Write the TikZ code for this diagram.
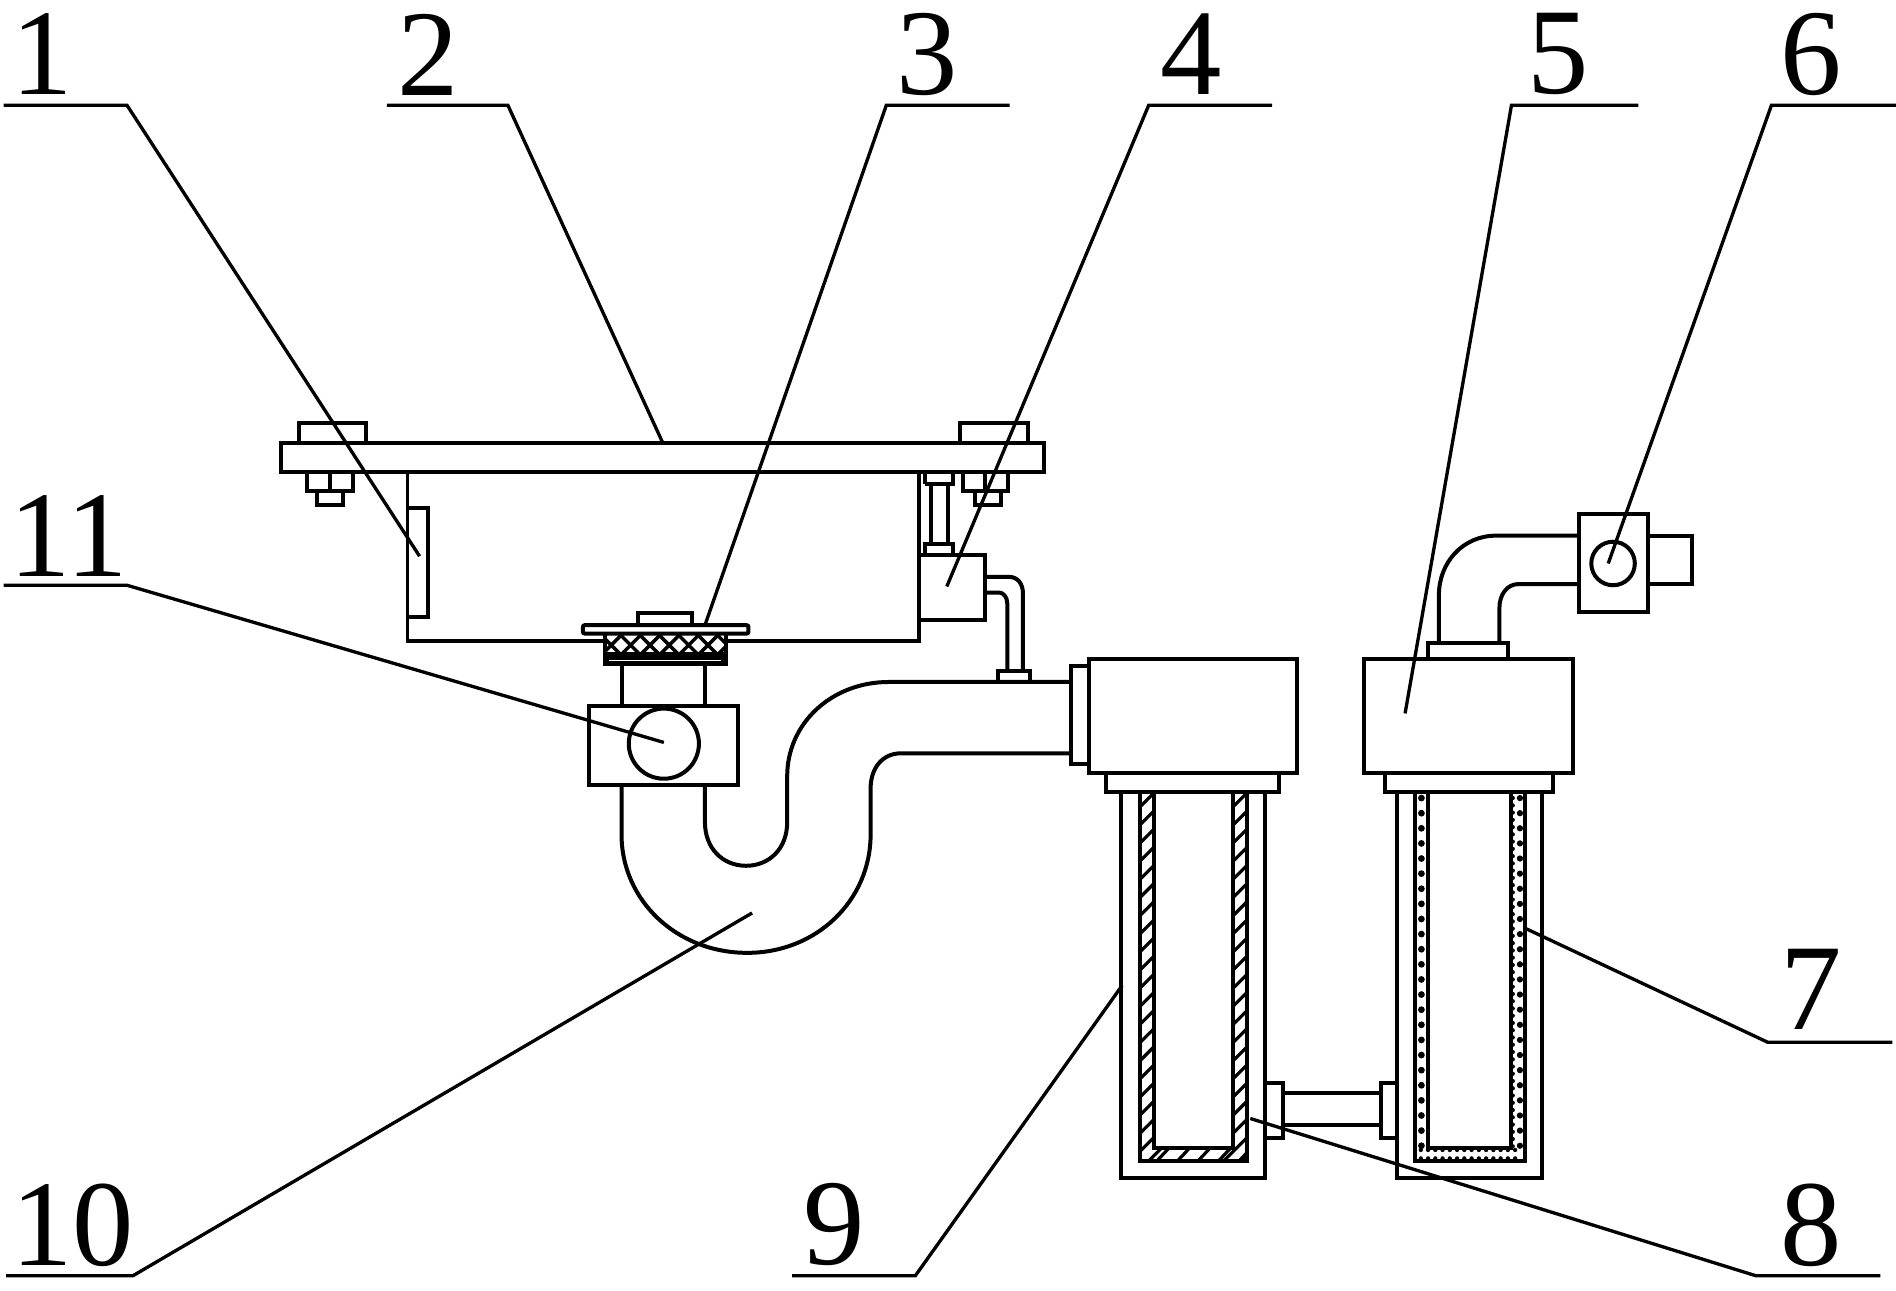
\documentclass[tikz,border=0pt]{standalone}
\usepackage{fontspec}
\setmainfont{Liberation Serif}
\tikzset{every picture/.style={line width=3pt}}
\tikzset{
	leader line/.style={line width=2.5pt},
	thin part/.style={line width=2.4pt},
	part label/.style={font=\fontsize{92}{92}\selectfont,inner sep=0pt}}

\begin{document}
\begin{tikzpicture}[x=0.907pt,y=0.907pt,yscale=-1,xscale=1]
	\useasboundingbox (0,0) rectangle (1568,1067);

	%Shape: Mounting Plate
	\draw   (232,366) rectangle (863,390) ;
	%Shape: Bolts
	\draw   (247,366) -- (247,350) -- (303,350) -- (303,366) ;
	\draw   (794,366) -- (794,350) -- (850,350) -- (850,366) ;
	\draw   (254,390) -- (254,406) -- (292,406) -- (292,390) (273,390) -- (273,406) ;
	\draw   (262,406) -- (262,418) -- (284,418) -- (284,406) ;
	\draw   (796,390) -- (796,406) -- (834,406) -- (834,390) (815,390) -- (815,406) ;
	\draw   (806,406) -- (806,418) -- (828,418) -- (828,406) ;
	%Straight Lines: Tank
	\draw   (337,390) -- (337,530) -- (500,530) (600,530) -- (760,530) -- (760,390) ;
	%Shape: Level Plate
	\draw   (337,420) -- (354,420) -- (354,510) -- (337,510) ;

	%Shape: Strainer
	\draw   (528,517) -- (528,507) -- (572,507) -- (572,517) ;
	\draw  [rounded corners=1.5pt] (482,517) rectangle (619,524) ;
	\draw  [fill=black] (500,541) rectangle (600,549) ;
	\draw  [white,line width=1pt] (504,546) -- (596,546) ;
	\draw   (500,524) -- (500,541) (600,524) -- (600,541) ;
	\begin{scope}
		\clip (500,524) rectangle (600,543);
		\foreach \hx in {480,496,...,616} {
			\draw [line width=2.6pt] (\hx,524) -- (\hx+19,543) (\hx,543) -- (\hx+19,524) ;
		}
	\end{scope}
	%Straight Lines: Drain Pipe
	\draw   (514,549) -- (514,584) (583,549) -- (583,584) ;
	%Shape: Sensor Box
	\draw   (487,584) rectangle (610,649) ;
	\draw   (549,615) circle [radius=29] ;

	%Curve Lines: Trap
	\draw   (886,564) -- (735,564) .. controls (688,564) and (651,598) .. (651,642) -- (651,680) .. controls (651,702) and (636,716) .. (617,716) .. controls (598,716) and (583,702) .. (583,680) -- (583,649) ;
	\draw   (886,623) -- (745,623) .. controls (730,623) and (720,635) .. (720,652) -- (720,690) .. controls (720,745) and (675,788) .. (618,788) .. controls (560,788) and (514,745) .. (514,690) -- (514,649) ;
	%Shape: Pipe Flange
	\draw   (901,551) -- (886,551) -- (886,632) -- (901,632) ;

	%Shape: Pump Cylinder
	\draw   (765,400) -- (765,390) (788,390) -- (788,400) -- (765,400) ;
	\draw   (770,400) -- (770,450) (784,400) -- (784,450) ;
	\draw   (765,459) -- (765,450) -- (788,450) -- (788,459) ;
	\draw   (760,459) rectangle (815,513) ;
	%Curve Lines: Pump Outlet
	\draw   (815,477) -- (834,477) .. controls (842,477) and (846,483) .. (846,491) -- (846,555) ;
	\draw   (815,490) -- (826,490) .. controls (830,490) and (833,494) .. (833,499) -- (833,555) ;
	\draw   (825,564) -- (825,555) -- (852,555) -- (852,564) ;

	%Shape: Filter Heads
	\draw   (901,545) rectangle (1073,639) ;
	\draw   (1128,545) rectangle (1301,639) ;
	\draw   (915,639) rectangle (1058,655) ;
	\draw   (1145,639) rectangle (1284,655) ;
	%Shape: Outer Housings
	\draw   (927,655) -- (927,974) -- (1046,974) -- (1046,655) ;
	\draw   (1155,655) -- (1155,974) -- (1275,974) -- (1275,655) ;

	%Shape: Left Filter Hatched
	\draw   (943,655) -- (943,960) -- (1031,960) -- (1031,655) ;
	\draw   (954,655) -- (954,949) -- (1020,949) -- (1020,655) ;
	\begin{scope}
		\clip (943,655) -- (943,960) -- (1031,960) -- (1031,655) -- (1020,655) -- (1020,949) -- (954,949) -- (954,655) -- cycle;
		\foreach \hy in {660,675,...,1005} {
			\draw [thin part] (935,\hy) -- (960,\hy-25) (1012,\hy) -- (1037,\hy-25) ;
		}
		\foreach \hx in {955,972,...,1040} {
			\draw [thin part] (\hx,962) -- (\hx+14,947) ;
		}
	\end{scope}

	%Shape: Right Filter Dotted
	\draw   (1170,655) -- (1170,960) -- (1261,960) -- (1261,655) ;
	\draw   (1181,655) -- (1181,949) -- (1250,949) -- (1250,655) ;
	\foreach \hy in {660,672.5,...,950} {
		\fill (1175.5,\hy) circle [radius=2.8] ;
		\fill (1257,\hy) circle [radius=2.6] ;
	}
	\foreach \hy in {660,666,...,950} {
		\fill (1251,\hy) circle [radius=1.8] ;
	}
	\foreach \hx in {1175,1181,...,1258} {
		\fill (\hx,951) circle [radius=1.8] ;
		\fill (\hx,958) circle [radius=1.8] ;
	}

	%Shape: Cross Pipe
	\draw   (1046,896) -- (1061,896) -- (1061,941) -- (1046,941) ;
	\draw   (1155,896) -- (1142,896) -- (1142,941) -- (1155,941) ;
	\draw   (1061,904) -- (1142,904) (1061,930) -- (1142,930) ;

	%Shape: Outlet Elbow
	\draw   (1181,545) -- (1181,532) -- (1247,532) -- (1247,545) ;
	\draw   (1190,532) -- (1190,492) .. controls (1190,465) and (1210,443) .. (1237,443) -- (1306,443) ;
	\draw   (1240,532) -- (1240,503) .. controls (1240,492) and (1246,483) .. (1256,483) -- (1306,483) ;
	%Shape: Valve
	\draw   (1306,425) rectangle (1363,506) ;
	\draw   (1334,466) circle [radius=18] ;
	\draw   (1363,443) -- (1399,443) -- (1399,483) -- (1363,483) ;

	% Text Node
	\draw (35,45) node [part label] (lab1) {1};
	% Text Node
	\draw (354,45) node [part label] (lab2) {2};
	% Text Node
	\draw (767,45) node [part label] (lab3) {3};
	% Text Node
	\draw (985,45) node [part label] (lab4) {4};
	% Text Node
	\draw (1289,45) node [part label] (lab5) {5};
	% Text Node
	\draw (1498,45) node [part label] (lab6) {6};
	% Text Node
	\draw (1498,818) node [part label] (lab7) {7};
	% Text Node
	\draw (1498,1013) node [part label] (lab8) {8};
	% Text Node
	\draw (690,1013) node [part label] (lab9) {9};
	% Text Node
	\draw (60,1013) node [part label] (lab10) {10};
	% Text Node
	\draw (57,443) node [part label] (lab11) {11};

	%Straight Lines: Leaders
	\draw [leader line] (3,87) -- (105,87) -- (347,460) ;
	\draw [leader line] (320,87) -- (420,87) -- (548,366) ;
	\draw [leader line] (835,87) -- (733,87) -- (583,517) ;
	\draw [leader line] (1052,87) -- (950,87) -- (783,485) ;
	\draw [leader line] (1355,87) -- (1250,87) -- (1162,590) ;
	\draw [leader line] (1568,87) -- (1465,87) -- (1330,466) ;
	\draw [leader line] (1565,862) -- (1462,862) -- (1262,768) ;
	\draw [leader line] (1555,1055) -- (1452,1055) -- (1034,925) ;
	\draw [leader line] (655,1055) -- (757,1055) -- (928,815) ;
	\draw [leader line] (5,1055) -- (110,1055) -- (622,755) ;
	\draw [leader line] (3,484) -- (105,484) -- (549,614) ;

\end{tikzpicture}
\end{document}
